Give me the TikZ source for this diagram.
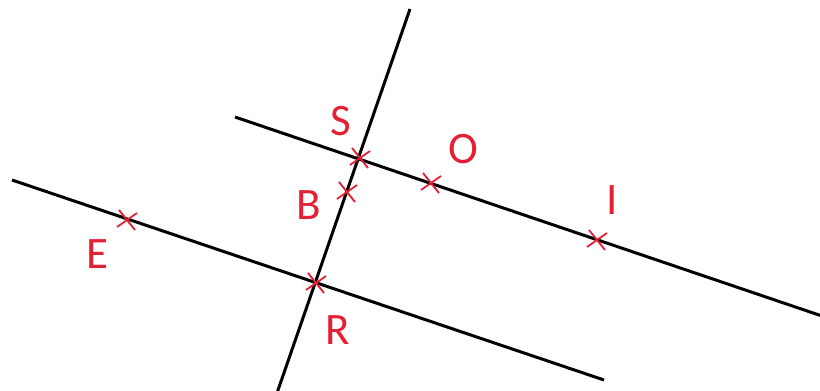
\documentclass[tikz,border=0pt]{standalone}
\usepackage{fontspec}
\setmainfont{Carlito}
\definecolor{mred}{RGB}{228,32,52}
\begin{document}
\begin{tikzpicture}[x=1pt,y=-1pt,
  ln/.style={line width=3pt,black},
  mk/.style={mred,line width=1.8pt},
  lb/.style={text=mred,font=\fontsize{45}{45}\selectfont,inner sep=0pt}]
\useasboundingbox (0,0) rectangle (820,391);
\coordinate (L1a) at (235,117); \coordinate (L1b) at (822,316);
\coordinate (L2a) at (12,180); \coordinate (L2b) at (604,380);
\coordinate (L3a) at (410,9); \coordinate (L3b) at (277,393);
\draw[ln] (L1a) -- (L1b);
\draw[ln] (L2a) -- (L2b);
\draw[ln] (L3a) -- (L3b);
\foreach \n/\px/\py in {S/360/158,B/347/192,O/431/183,E/127/220,R/316/283,I/597/240}{
  \coordinate (m\n) at (\px,\py);
  \draw[mk] (m\n) ++(-8,-10) -- ++(16,20);
  \draw[mk] (m\n) ++(-10,7) -- ++(20,-14);
}
\node[lb] (tS) at (341,121) {S};
\node[lb] (tO) at (463,149) {O};
\node[lb] (tB) at (309,205) {B};
\node[lb] (tI) at (612,200) {I};
\node[lb] (tE) at (97,254) {E};
\node[lb] (tR) at (338,330) {R};
\end{tikzpicture}
\end{document}
